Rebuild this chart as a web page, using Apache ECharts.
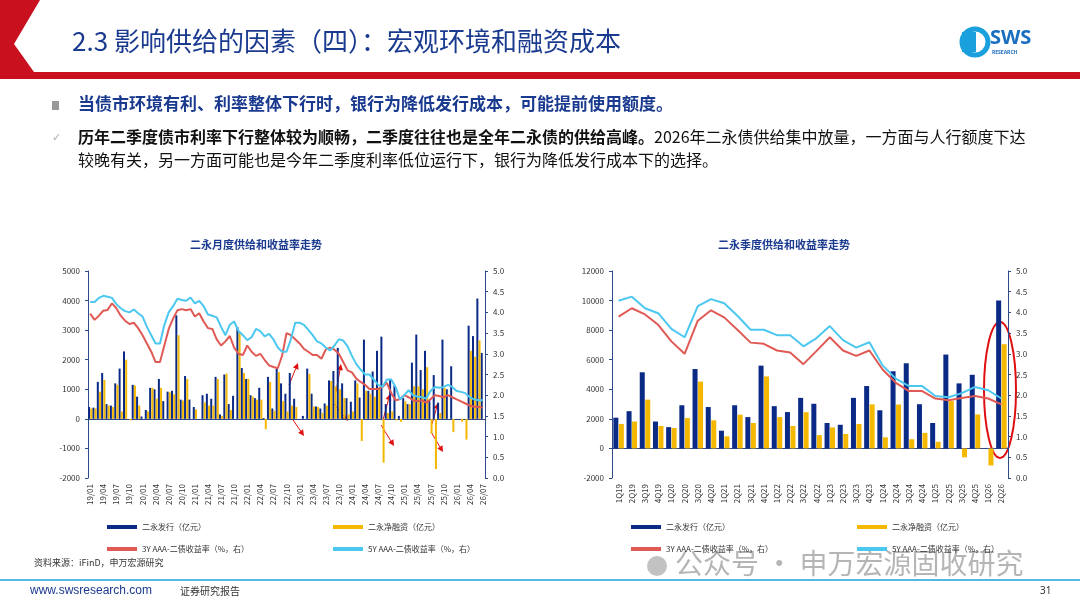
<!DOCTYPE html>
<html><head><meta charset="utf-8">
<script src="https://cdn.jsdelivr.net/npm/echarts@6/dist/echarts.min.js"></script>
<style>html,body{margin:0;padding:0;background:#fff}#c{width:1080px;height:608px}</style>
</head><body><div id="c"></div>
<script>
// ---- monthly data ----
const mCats = [];
for (let y = 19; y <= 26; y++) for (let m = 1; m <= 12; m++) { if (y === 26 && m > 7) break; mCats.push(y + '/' + String(m).padStart(2, '0')); }
const mIssue = [400,380,1250,1550,500,450,1200,1700,2280,0,1150,750,
 80,300,1050,1000,1350,600,920,950,3500,650,1450,650,
 400,0,800,850,680,1420,150,1500,500,780,3100,1720,
 1350,800,700,1050,30,1420,350,1700,1200,850,1550,680,
 0,100,1700,850,420,350,520,1300,1620,2400,1200,700,
 580,1300,720,2680,950,1600,2300,2780,500,1350,1120,100,
 700,500,1900,2850,1650,2300,600,1480,550,2680,1000,1780,
 0,0,0,3150,2800,4070,2230];
const mNet = [350,350,920,1320,450,400,1150,250,2000,-50,1130,450,
 0,250,1050,680,1050,0,900,830,2830,620,1350,0,
 320,0,560,450,450,1350,100,1530,300,0,2950,1550,
 1350,760,650,650,-350,1250,270,1580,600,250,450,400,
 0,0,1520,420,400,200,450,1280,1100,1000,700,150,
 250,1200,-750,950,850,750,1050,-1480,200,250,-50,-100,
 600,500,1100,1100,1000,1750,-500,-1700,200,1050,0,-450,
 0,-100,-700,2300,2100,2650,0];
const m3Y = [3.97,3.82,3.92,4.04,4.06,4.22,4.1,3.92,3.8,3.72,3.75,3.62,
 3.45,3.25,3.05,2.8,2.8,3.2,3.6,3.85,4.05,4.08,4.05,4.08,
 3.9,3.98,3.78,3.62,3.6,3.35,3.2,3.3,3.43,3.15,3.0,2.97,
 3.2,3.05,2.95,3.0,2.85,2.72,2.68,2.65,2.96,3.5,3.45,3.35,
 3.25,3.12,3.05,2.97,2.97,2.88,3.1,3.15,3.1,3.0,2.8,2.6,
 2.55,2.4,2.32,2.25,2.15,2.15,2.15,2.2,2.3,2.05,1.88,1.9,
 2.0,1.95,1.88,1.85,1.88,1.82,1.9,2.0,1.98,1.95,2.0,1.95,
 1.9,1.85,1.8,1.75,1.72,1.72,1.7];
const m5Y = [4.25,4.25,4.35,4.4,4.38,4.35,4.2,4.1,4.03,4.0,4.07,3.98,
 3.9,3.65,3.45,3.25,3.25,3.7,4.0,4.15,4.33,4.3,4.28,4.36,
 4.22,4.28,4.15,3.95,3.92,3.88,3.65,3.45,3.7,3.78,3.55,3.45,
 3.33,3.4,3.6,3.55,3.42,3.48,3.35,3.15,3.05,3.05,3.35,3.75,
 3.75,3.7,3.58,3.45,3.3,3.25,3.15,3.08,3.2,3.35,3.32,3.18,
 2.95,2.75,2.62,2.5,2.5,2.38,2.25,2.2,2.38,2.38,2.2,1.9,
 2.0,2.12,2.0,1.97,1.95,1.92,2.1,2.2,2.18,2.2,2.25,2.2,
 2.1,2.08,2.05,1.95,1.9,1.88,1.88];
// ---- quarterly data ----
const qCats = [];
for (let y = 19; y <= 26; y++) for (let q = 1; q <= 4; q++) { if (y === 26 && q > 2) break; qCats.push(q + 'Q' + y); }
const qIssue = [2080,2520,5150,1820,1440,2920,5370,2800,1200,2920,2120,5600,2860,2460,3420,3020,1720,1600,3420,4220,2580,5220,5760,2990,1720,6350,4400,4980,0,10000];
const qNet = [1650,1820,3300,1520,1380,2050,4520,1900,820,2280,1720,4870,2120,1520,2450,900,1420,980,1650,2980,750,2970,620,1050,450,3200,-600,2300,-1150,7050];
const q3Y = [3.9,4.1,3.95,3.7,3.3,3.0,3.8,4.05,3.88,3.58,3.27,3.24,3.08,3.03,2.75,3.07,3.4,3.08,2.95,3.08,2.62,2.3,2.1,2.1,1.92,1.88,1.93,1.98,1.92,1.78];
const q5Y = [4.28,4.38,4.1,3.98,3.6,3.4,4.15,4.32,4.22,3.92,3.58,3.58,3.45,3.45,3.18,3.38,3.67,3.33,3.15,3.28,2.72,2.4,2.22,2.22,1.98,1.95,2.05,2.2,2.12,1.92];

const NAVY = '#0a2a86', GOLD = '#f5b800', RED = '#e05a55', CYAN = '#4cc8f0', AX = '#2f4a8a';
const F = '"Noto Sans CJK SC", sans-serif';
const lbl = {fontSize: 8, color: '#333', fontFamily: F};

function xAxes(cats, gi, interval, zeroY) {
  return [
    {type: 'category', gridIndex: gi, data: cats, position: 'bottom', axisLine: {show: false}, axisTick: {show: false},
     axisLabel: Object.assign({rotate: 90, interval: interval, margin: 6}, lbl)},
    {type: 'category', gridIndex: gi, data: cats, position: 'bottom', axisLine: {onZero: true, onZeroAxisIndex: zeroY, lineStyle: {color: AX}},
     axisTick: {show: false}, axisLabel: {show: false}}
  ];
}
function yAxes(gi, min, max, step) {
  return [
    {type: 'value', gridIndex: gi, min: min, max: max, interval: step, splitLine: {show: false},
     axisLine: {show: true, lineStyle: {color: AX}}, axisTick: {show: true, length: 3}, axisLabel: Object.assign({formatter: v => String(v)}, lbl)},
    {type: 'value', gridIndex: gi, min: 0, max: 5, interval: 0.5, position: 'right', splitLine: {show: false},
     axisLine: {show: true, lineStyle: {color: AX}}, axisTick: {show: true, length: 3}, axisLabel: Object.assign({formatter: v => v.toFixed(1)}, lbl)}
  ];
}
function series(xi, yi, iss, net, y3, y5, bw) {
  return [
    {name: '二永发行（亿元）', type: 'bar', xAxisIndex: xi, yAxisIndex: yi, data: iss, barWidth: bw, barGap: '10%', itemStyle: {color: NAVY}},
    {name: '二永净融资（亿元）', type: 'bar', xAxisIndex: xi, yAxisIndex: yi, data: net, barWidth: bw, itemStyle: {color: GOLD}},
    {name: '3Y AAA-二债收益率（%，右）', type: 'line', xAxisIndex: xi, yAxisIndex: yi + 1, data: y3, symbol: 'none', lineStyle: {color: RED, width: 2}, itemStyle: {color: RED}},
    {name: '5Y AAA-二债收益率（%，右）', type: 'line', xAxisIndex: xi, yAxisIndex: yi + 1, data: y5, symbol: 'none', lineStyle: {color: CYAN, width: 2}, itemStyle: {color: CYAN}}
  ];
}
const ax = xAxes(mCats, 0, 2, 0).concat(xAxes(qCats, 1, 0, 2));
const s0 = series(0, 0, mIssue, mNet, m3Y, m5Y, 2);
const s1 = series(2, 2, qIssue, qNet, q3Y, q5Y, 5);

function legend(left, top, items, w) {
  return {left: left, top: top, width: w, itemWidth: 30, itemHeight: 4, itemGap: 0, icon: 'rect',
    textStyle: {fontSize: 8, color: '#333', fontFamily: F}, data: items, selectedMode: false};
}
const names = ['二永发行（亿元）', '二永净融资（亿元）', '3Y AAA-二债收益率（%，右）', '5Y AAA-二债收益率（%，右）'];

function arrow(x1, y1, x2, y2) {
  const a = Math.atan2(y2 - y1, x2 - x1), L = 6, W = 3;
  const bx = x2 - L * Math.cos(a), by = y2 - L * Math.sin(a);
  return [
    {type: 'line', shape: {x1: x1, y1: y1, x2: bx, y2: by}, style: {stroke: '#e01010', lineWidth: 1}},
    {type: 'polygon', shape: {points: [[x2, y2], [bx - W * Math.sin(a), by + W * Math.cos(a)], [bx + W * Math.sin(a), by - W * Math.cos(a)]]}, style: {fill: '#e01010'}}
  ];
}
const arrows = [].concat(
  arrow(289, 385, 298, 363), arrow(291, 417, 304, 436),
  arrow(336, 392, 341, 364), arrow(334, 404, 348, 421),
  arrow(383, 420, 390, 394), arrow(381, 425, 394, 446),
  arrow(432, 424, 438, 403), arrow(431, 432, 443, 452));

const chart = echarts.init(document.getElementById('c'));
chart.setOption({
  backgroundColor: '#fff',
  animation: false,
  textStyle: {fontFamily: F},
  grid: [{left: 88, top: 271, width: 397, height: 207}, {left: 612, top: 271, width: 396, height: 207}],
  xAxis: ax,
  yAxis: yAxes(0, -2000, 5000, 1000).concat(yAxes(1, -2000, 12000, 2000)),
  series: s0.concat(s1),
  legend: [
    legend(102, 518, [names[0]], 220), legend(328, 518, [names[1]], 200),
    legend(102, 540, [names[2]], 220), legend(328, 540, [names[3]], 200),
    legend(626, 518, [names[0]], 220), legend(852, 518, [names[1]], 200),
    legend(626, 540, [names[2]], 220), legend(852, 540, [names[3]], 200)
  ],
  graphic: [
    {type: 'polygon', shape: {points: [[0,0],[40,0],[14,44],[34,72],[1080,72],[1080,79],[0,79]]}, style: {fill: '#c8101e'}},
    {type: 'text', left: 72, top: 28, style: {text: '2.3 影响供给的因素（四）：宏观环境和融资成本', fill: '#1a3a8f', font: '26px "Noto Sans CJK SC"'}},
    {type: 'circle', shape: {cx: 975, cy: 42, r: 13}, style: {fill: '#fff', stroke: '#1aa0dc', lineWidth: 5}},
    {type: 'rect', shape: {x: 962, y: 32, width: 14, height: 20}, style: {fill: '#1aa0dc'}},
    {type: 'text', left: 990, top: 28, style: {text: 'SWS', fill: '#1a6ec0', font: 'bold 20px "Noto Sans"'}},
    {type: 'text', left: 992, top: 50, style: {text: 'RESEARCH', fill: '#1a6ec0', font: 'bold 5px "Noto Sans"'}},
    {type: 'rect', shape: {x: 52, y: 101, width: 7, height: 9}, style: {fill: '#999'}},
    {type: 'text', left: 78, top: 95, style: {text: '当债市环境有利、利率整体下行时，银行为降低发行成本，可能提前使用额度。', fill: '#1a3a8f', font: 'bold 17px "Noto Sans CJK SC"'}},
    {type: 'text', left: 52, top: 132, style: {text: '✓', fill: '#aaa', font: '11px "Noto Sans"'}},
    {type: 'text', left: 78, top: 129, style: {rich: {b: {font: 'bold 16px "Noto Sans CJK SC"', fill: '#111'}, n: {font: '16px "Noto Sans CJK SC"', fill: '#111'}},
      text: '{b|历年二季度债市利率下行整体较为顺畅，二季度往往也是全年二永债的供给高峰。}{n|2026年二永债供给集中放量，一方面与人行额度下达}'}},
    {type: 'text', left: 78, top: 152, style: {text: '较晚有关，另一方面可能也是今年二季度利率低位运行下，银行为降低发行成本下的选择。', fill: '#111', font: '16px "Noto Sans CJK SC"'}},
    {type: 'text', left: 190, top: 239, style: {text: '二永月度供给和收益率走势', fill: '#1a3a8f', font: 'bold 11px "Noto Sans CJK SC"'}},
    {type: 'text', left: 718, top: 239, style: {text: '二永季度供给和收益率走势', fill: '#1a3a8f', font: 'bold 11px "Noto Sans CJK SC"'}},
    {type: 'ellipse', shape: {cx: 1000, cy: 390, rx: 16, ry: 68}, style: {fill: 'none', stroke: '#e01010', lineWidth: 2}},
    {type: 'text', left: 34, top: 558, style: {text: '资料来源：iFinD，申万宏源研究', fill: '#333', font: '9px "Noto Sans CJK SC"'}},
    {type: 'text', left: 675, top: 549, style: {text: '公众号 · 申万宏源固收研究', fill: 'rgba(120,120,120,0.55)', font: '28px "Noto Sans CJK SC"'}},
    {type: 'circle', shape: {cx: 657, cy: 566, r: 10}, style: {fill: 'rgba(120,120,120,0.45)'}},
    {type: 'line', shape: {x1: 0, y1: 580, x2: 1080, y2: 580}, style: {stroke: '#1aa0dc', lineWidth: 1.5}},
    {type: 'text', left: 30, top: 585, style: {text: 'www.swsresearch.com', fill: '#1a3a8f', font: '12px "Liberation Sans"'}},
    {type: 'text', left: 180, top: 586, style: {text: '证券研究报告', fill: '#333', font: '10px "Noto Sans CJK SC"'}},
    {type: 'text', left: 1040, top: 586, style: {text: '31', fill: '#333', font: '10px "Noto Sans"'}}
  ].concat(arrows)
});
</script></body></html>
